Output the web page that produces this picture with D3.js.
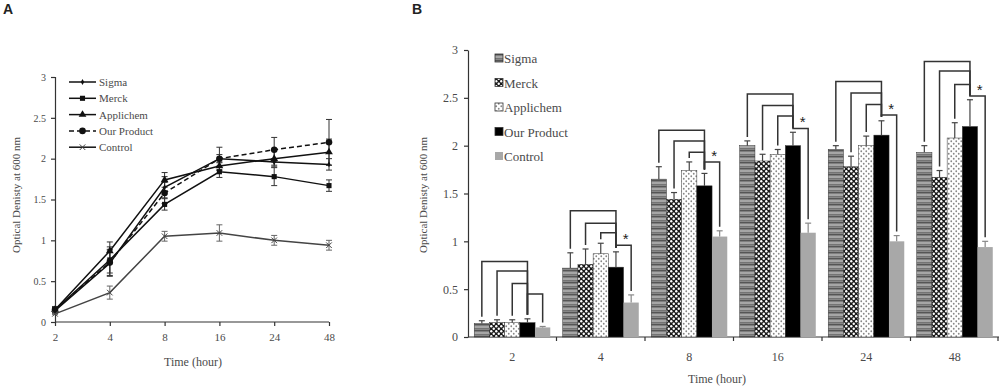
<!DOCTYPE html>
<html>
<head>
<meta charset="utf-8">
<script src="https://cdn.jsdelivr.net/npm/d3@7"></script>
<style>
  body { margin: 0; background: #fff; }
  .axis path, .axis line { stroke: #333; stroke-width: 1.2; }
</style>
</head>
<body>
<svg id="svg"></svg>
<script>
// DATA
var times = ["2", "4", "8", "16", "24", "48"];
var series = ["Sigma", "Merck", "Applichem", "Our Product", "Control"];

var sigma     = [0.14, 0.72, 1.65, 2.00, 1.96, 1.93];
var merck     = [0.15, 0.76, 1.44, 1.84, 1.78, 1.67];
var applichem = [0.15, 0.87, 1.74, 1.91, 2.00, 2.08];
var ourProd   = [0.15, 0.73, 1.58, 2.00, 2.11, 2.20];
var control   = [0.10, 0.36, 1.05, 1.09, 1.00, 0.94];

var sigmaErr     = [0.03, 0.16, 0.13, 0.05, 0.04, 0.07];
var merckErr     = [0.03, 0.16, 0.07, 0.07, 0.11, 0.07];
var applichemErr = [0.03, 0.11, 0.09, 0.05, 0.10, 0.16];
var ourProdErr   = [0.04, 0.16, 0.13, 0.14, 0.15, 0.28];
var controlErr   = [0.01, 0.08, 0.06, 0.10, 0.06, 0.06];

// bracket levels per time: Sigma, Merck, Applichem (to Our Product), Our Product-Control
var bracketLevels = [
  [0.79, 0.69, 0.56, 0.45],
  [1.32, 1.19, 1.09, 0.96],
  [2.16, 2.05, 1.93, 1.83],
  [2.54, 2.42, 2.31, 2.18],
  [2.67, 2.55, 2.43, 2.32],
  [2.88, 2.78, 2.64, 2.52]
];
var sigMarks = ["", "*", "*", "*", "*", "*"];

var yTicks = [0, 0.5, 1, 1.5, 2, 2.5, 3];

var allVals = [sigma, merck, applichem, ourProd, control];
var allErrs = [sigmaErr, merckErr, applichemErr, ourProdErr, controlErr];

var serif = "'Liberation Serif', 'DejaVu Serif', 'Times New Roman', serif";
var txtCol = "#4a4a4a";

var svg = d3.select("#svg").attr("width", 1000).attr("height", 389);

// patterns
var defs = svg.append("defs");
var p1 = defs.append("pattern").attr("id", "pSigma").attr("patternUnits", "userSpaceOnUse")
  .attr("width", 6).attr("height", 6);
p1.append("rect").attr("width", 6).attr("height", 6).attr("fill", "#8a8a8a");
p1.append("rect").attr("y", 0).attr("width", 6).attr("height", 1.2).attr("fill", "#555");
p1.append("rect").attr("y", 2.5).attr("width", 6).attr("height", 1).attr("fill", "#c2c2c2");
p1.append("rect").attr("y", 4.3).attr("width", 6).attr("height", 0.8).attr("fill", "#6a6a6a");

var p2 = defs.append("pattern").attr("id", "pMerck").attr("patternUnits", "userSpaceOnUse")
  .attr("width", 5).attr("height", 5);
p2.append("rect").attr("width", 5).attr("height", 5).attr("fill", "#1a1a1a");
p2.append("circle").attr("cx", 1.25).attr("cy", 1.25).attr("r", 1.2).attr("fill", "#fff");
p2.append("circle").attr("cx", 3.75).attr("cy", 3.75).attr("r", 1.2).attr("fill", "#fff");

var p3 = defs.append("pattern").attr("id", "pAppli").attr("patternUnits", "userSpaceOnUse")
  .attr("width", 5).attr("height", 5);
p3.append("rect").attr("width", 5).attr("height", 5).attr("fill", "#fff");
p3.append("circle").attr("cx", 1.25).attr("cy", 1.25).attr("r", 0.9).attr("fill", "#888");
p3.append("circle").attr("cx", 3.75).attr("cy", 3.75).attr("r", 0.9).attr("fill", "#888");

var fills = ["url(#pSigma)", "url(#pMerck)", "url(#pAppli)", "#000", "#a8a8a8"];

function styleTxt(sel, size) {
  sel.style("font-family", serif).style("font-size", size + "px").style("fill", txtCol);
}

// ---------------- PANEL A ----------------
svg.append("text").attr("x", 3).attr("y", 14).text("A")
  .style("font-family", "'Liberation Sans', Arial, sans-serif").style("font-weight", "bold")
  .style("font-size", "14px").style("fill", "#222");

var xA = d3.scalePoint().domain(times).range([55, 329]);
var yA = d3.scaleLinear().domain([0, 3]).range([322, 77]);

var gA = svg.append("g");

gA.append("g").attr("class", "axis")
  .attr("transform", "translate(55,0)")
  .call(d3.axisLeft(yA).tickValues(yTicks).tickSize(4).tickFormat(d3.format("")))
  .call(g => styleTxt(g.selectAll("text").attr("dx", -2), 10));

gA.append("g").attr("class", "axis")
  .attr("transform", "translate(0,322)")
  .call(d3.axisBottom(xA).tickSize(4).tickSizeOuter(0))
  .call(g => g.select(".domain").attr("d", "M55,0H329"))
  .call(g => styleTxt(g.selectAll("text").attr("dy", "1.1em"), 11));

styleTxt(gA.append("text").attr("x", 193).attr("y", 366).attr("text-anchor", "middle")
  .text("Time (hour)"), 12);
styleTxt(gA.append("text").attr("transform", "translate(20,195) rotate(-90)")
  .attr("text-anchor", "middle").text("Optical Denisty at 600 nm"), 11);

var lineA = d3.line().x((d, i) => xA(times[i])).y(d => yA(d));

// error bars A
allVals.forEach(function (vals, s) {
  var errs = allErrs[s];
  var eg = gA.append("g").attr("stroke", s == 4 ? "#666" : "#333").attr("stroke-width", 1);
  vals.forEach(function (v, i) {
    var x = xA(times[i]);
    eg.append("line").attr("x1", x).attr("x2", x).attr("y1", yA(v - errs[i])).attr("y2", yA(v + errs[i]));
    eg.append("line").attr("x1", x - 3).attr("x2", x + 3).attr("y1", yA(v + errs[i])).attr("y2", yA(v + errs[i]));
    eg.append("line").attr("x1", x - 3).attr("x2", x + 3).attr("y1", yA(v - errs[i])).attr("y2", yA(v - errs[i]));
  });
});

var symbols = [
  d3.symbol().type(d3.symbolDiamond).size(10),
  d3.symbol().type(d3.symbolSquare).size(26),
  d3.symbol().type(d3.symbolTriangle).size(26),
  d3.symbol().type(d3.symbolCircle).size(34),
  d3.symbol().type(d3.symbolX).size(22)
];

allVals.forEach(function (vals, s) {
  gA.append("path").attr("d", lineA(vals))
    .attr("fill", "none").attr("stroke", s == 4 ? "#444" : "#111")
    .attr("stroke-width", 1.5)
    .attr("stroke-dasharray", s == 3 ? "5,3" : null);
  gA.selectAll(".m" + s).data(vals).enter().append("path")
    .attr("class", "m" + s)
    .attr("transform", (d, i) => "translate(" + xA(times[i]) + "," + yA(d) + ")")
    .attr("d", symbols[s])
    .attr("fill", s == 4 ? "none" : "#111")
    .attr("stroke", s == 4 ? "#444" : "none").attr("stroke-width", 1);
});

// legend A
var legA = gA.append("g");
series.forEach(function (name, s) {
  var yy = 82 + s * 16.3;
  legA.append("line").attr("x1", 69).attr("x2", 96).attr("y1", yy).attr("y2", yy)
    .attr("stroke", "#111").attr("stroke-width", 1.5)
    .attr("stroke-dasharray", s == 3 ? "5,3" : null);
  legA.append("path").attr("transform", "translate(82.5," + yy + ")")
    .attr("d", symbols[s]).attr("fill", s == 4 ? "none" : "#111")
    .attr("stroke", s == 4 ? "#444" : "none");
  styleTxt(legA.append("text").attr("x", 99).attr("y", yy + 4).text(name), 11);
});

// ---------------- PANEL B ----------------
svg.append("text").attr("x", 412).attr("y", 14).text("B")
  .style("font-family", "'Liberation Sans', Arial, sans-serif").style("font-weight", "bold")
  .style("font-size", "14px").style("fill", "#222");

var x0 = d3.scaleBand().domain(times).range([468, 999]);
var x1 = d3.scaleBand().domain(series).range([0, x0.bandwidth()]).paddingInner(0).paddingOuter(0.41);
var yB = d3.scaleLinear().domain([0, 3]).range([337, 50]);

var gB = svg.append("g");

gB.append("g").attr("class", "axis")
  .attr("transform", "translate(468,0)")
  .call(d3.axisLeft(yB).tickValues(yTicks).tickSize(4).tickSizeOuter(0).tickFormat(d3.format("")))
  .call(g => styleTxt(g.selectAll("text").attr("dx", -3), 12));

var xAxB = gB.append("g").attr("class", "axis").attr("transform", "translate(0,337)");
xAxB.append("line").attr("x1", 468).attr("x2", 999).attr("y1", 0).attr("y2", 0);
xAxB.selectAll(".tk").data(times.slice(1).concat(["end"])).enter().append("line")
  .attr("x1", d => d == "end" ? 998 : x0(d)).attr("x2", d => d == "end" ? 998 : x0(d))
  .attr("y1", 0).attr("y2", 4);
styleTxt(xAxB.selectAll(".lb").data(times).enter().append("text")
  .attr("x", d => x0(d) + x0.bandwidth() / 2).attr("y", 24)
  .attr("text-anchor", "middle").text(d => d), 12);

styleTxt(gB.append("text").attr("x", 717).attr("y", 383).attr("text-anchor", "middle")
  .text("Time (hour)"), 12);
styleTxt(gB.append("text").attr("transform", "translate(427,195) rotate(-90)")
  .attr("text-anchor", "middle").text("Optical Denisty at 600 nm"), 11);

// bars
allVals.forEach(function (vals, s) {
  gB.selectAll(".b" + s).data(vals).enter().append("rect")
    .attr("class", "b" + s)
    .attr("x", (d, i) => x0(times[i]) + x1(series[s]))
    .attr("y", d => yB(d))
    .attr("width", x1.bandwidth())
    .attr("height", d => yB(0) - yB(d))
    .attr("fill", fills[s])
    .attr("stroke", s == 4 ? "none" : "#333").attr("stroke-width", 0.5);
  // error bars (upper only)
  var errs = allErrs[s];
  vals.forEach(function (v, i) {
    var cx = x0(times[i]) + x1(series[s]) + x1.bandwidth() / 2;
    var col = s == 4 ? "#888" : "#444";
    gB.append("line").attr("x1", cx).attr("x2", cx).attr("y1", yB(v)).attr("y2", yB(v + errs[i]))
      .attr("stroke", col).attr("stroke-width", 1.2);
    gB.append("line").attr("x1", cx - 3).attr("x2", cx + 3).attr("y1", yB(v + errs[i])).attr("y2", yB(v + errs[i]))
      .attr("stroke", col).attr("stroke-width", 1.2);
  });
});

// brackets
var brG = gB.append("g").attr("fill", "none").attr("stroke", "#333").attr("stroke-width", 1.5);
times.forEach(function (t, i) {
  var cxOf = s => x0(t) + x1(series[s]) + x1.bandwidth() / 2;
  var topOf = s => yB(allVals[s][i] + allErrs[s][i]) - 4;
  [0, 1, 2].forEach(function (s) {
    var yl = yB(bracketLevels[i][s]);
    brG.append("path").attr("d", "M" + cxOf(s) + "," + topOf(s) + "V" + yl + "H" + cxOf(3) + "V" + topOf(3));
  });
  var yc = yB(bracketLevels[i][3]);
  brG.append("path").attr("d", "M" + cxOf(3) + "," + topOf(3) + "V" + yc + "H" + cxOf(4) + "V" + topOf(4));
  if (sigMarks[i]) {
    gB.append("text").attr("x", (cxOf(3) + cxOf(4)) / 2 + 2).attr("y", yc - 1)
      .attr("text-anchor", "middle").style("font-size", "15px").style("fill", "#222")
      .style("font-family", "'Liberation Sans', sans-serif").text(sigMarks[i]);
  }
});

// legend B
var legB = gB.append("g");
series.forEach(function (name, s) {
  var yy = 58 + s * 24.5;
  legB.append("rect").attr("x", 495).attr("y", yy - 4).attr("width", 8).attr("height", 8)
    .attr("fill", fills[s]).attr("stroke", s == 4 ? "none" : "#333").attr("stroke-width", 0.8);
  styleTxt(legB.append("text").attr("x", 504).attr("y", yy + 5).text(name), 13);
});
</script>
</body>
</html>
